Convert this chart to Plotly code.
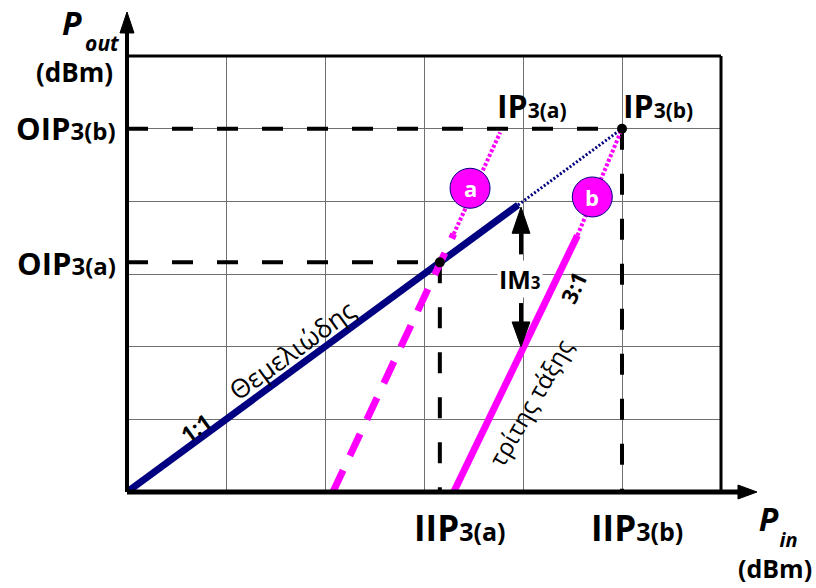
import plotly.graph_objects as go

# Both axes run over six grid divisions (arbitrary dB units)
x_range = [0, 6]
y_range = [0, 6]

# Fundamental (1:1) output
fund_x = [0.0, 3.95]
fund_y = [0.0, 3.95]
fund_ext_x = [3.95, 5.0]
fund_ext_y = [3.95, 5.0]

# Third-order (3:1) products, case a and case b
third_a_x = [2.08, 3.30]
third_a_y = [0.0, 3.55]
third_a_ext_x = [3.30, 3.77]
third_a_ext_y = [3.55, 4.95]

third_b_x = [3.30, 4.55]
third_b_y = [0.0, 3.53]
third_b_ext_x = [4.55, 5.0]
third_b_ext_y = [3.53, 5.0]

# Intercept points (input = output on the 1:1 line)
ip3_a = 3.16
ip3_b = 5.0

# IM3 distance marker
im3_x = 3.98
im3_top = 3.92
im3_bottom = 2.0

NAVY = "#000080"
MAGENTA = "#FF00FF"
FONT = "Open Sans"

fig = go.Figure()

# dashed guide lines to the axes
for v in (ip3_a, ip3_b):
    fig.add_trace(go.Scatter(x=[0, v], y=[v, v], mode="lines",
                             line=dict(color="black", width=4, dash="21px,24px"),
                             hoverinfo="skip"))
    fig.add_trace(go.Scatter(x=[v, v], y=[v, 0], mode="lines",
                             line=dict(color="black", width=4, dash="21px,24px"),
                             hoverinfo="skip"))

# fundamental
fig.add_trace(go.Scatter(x=fund_x, y=fund_y, mode="lines",
                         line=dict(color=NAVY, width=7), hoverinfo="skip"))
fig.add_trace(go.Scatter(x=fund_ext_x, y=fund_ext_y, mode="lines",
                         line=dict(color=NAVY, width=3, dash="2px,2px"),
                         hoverinfo="skip"))

# third-order lines
fig.add_trace(go.Scatter(x=third_a_x, y=third_a_y, mode="lines",
                         line=dict(color=MAGENTA, width=7, dash="24px,16px"),
                         hoverinfo="skip"))
fig.add_trace(go.Scatter(x=third_a_ext_x, y=third_a_ext_y, mode="lines",
                         line=dict(color=MAGENTA, width=4, dash="3px,2px"),
                         hoverinfo="skip"))
fig.add_trace(go.Scatter(x=third_b_x, y=third_b_y, mode="lines",
                         line=dict(color=MAGENTA, width=7), hoverinfo="skip"))
fig.add_trace(go.Scatter(x=third_b_ext_x, y=third_b_ext_y, mode="lines",
                         line=dict(color=MAGENTA, width=4, dash="3px,2px"),
                         hoverinfo="skip"))

# intercept dots
fig.add_trace(go.Scatter(x=[ip3_a, ip3_b], y=[ip3_a, ip3_b], mode="markers",
                         marker=dict(color="black", size=10), cliponaxis=False,
                         hoverinfo="skip"))

shapes = []
# plot frame: thin top/right, heavy axes with arrowheads
shapes.append(dict(type="line", xref="paper", yref="paper", x0=0, x1=1, y0=1, y1=1,
                   line=dict(color="black", width=3)))
shapes.append(dict(type="line", xref="paper", yref="paper", x0=1, x1=1, y0=0, y1=1,
                   line=dict(color="black", width=3)))
shapes.append(dict(type="line", xref="paper", yref="paper", x0=0, x1=1.035, y0=0, y1=0,
                   line=dict(color="black", width=5)))
shapes.append(dict(type="line", xref="paper", yref="paper", x0=0, x1=0, y0=0, y1=1.06,
                   line=dict(color="black", width=4)))
shapes.append(dict(type="path", xref="paper", yref="paper",
                   path="M 1.0606 0 L 1.0286 0.016 L 1.0286 -0.016 Z",
                   fillcolor="black", line=dict(color="black", width=1)))
shapes.append(dict(type="path", xref="paper", yref="paper",
                   path="M 0 1.1009 L -0.0118 1.0528 L 0.0118 1.0528 Z",
                   fillcolor="black", line=dict(color="black", width=1)))

# IM3 arrows
hw = 0.09
shapes.append(dict(type="line", x0=im3_x, x1=im3_x, y0=3.27, y1=3.56,
                   line=dict(color="black", width=4)))
shapes.append(dict(type="path",
                   path=f"M {im3_x} {im3_top} L {im3_x-hw} 3.56 L {im3_x+hw} 3.56 Z",
                   fillcolor="black", line=dict(color="black", width=1)))
shapes.append(dict(type="line", x0=im3_x, x1=im3_x, y0=2.60, y1=2.34,
                   line=dict(color="black", width=4)))
shapes.append(dict(type="path",
                   path=f"M {im3_x} {im3_bottom} L {im3_x-hw} 2.34 L {im3_x+hw} 2.34 Z",
                   fillcolor="black", line=dict(color="black", width=1)))

# a / b circles
for cx, cy in ((3.465, 4.18), (4.70, 4.06)):
    shapes.append(dict(type="circle", xsizemode="pixel", ysizemode="pixel",
                       xanchor=cx, yanchor=cy, x0=-20, x1=20, y0=-20, y1=20,
                       fillcolor=MAGENTA, line=dict(color=NAVY, width=1)))

ann = []


def label(x, y, text, size, ref="data", color="black", **kw):
    d = dict(x=x, y=y, text=text, showarrow=False, xanchor="center", yanchor="middle",
             font=dict(family=FONT, size=size, color=color))
    if ref == "paper":
        d.update(xref="paper", yref="paper")
    d.update(kw)
    ann.append(d)


def sized(px, s):
    return f"<span style='font-size:{px}px'>{s}</span>"


def ip_label(main, sub, size_main, size_sub):
    return "<b>" + main + sized(size_sub, sub) + "</b>"


label(-0.0152, 0.8349, ip_label("OIP", "3(b)", 31, 24), 31, ref="paper", xanchor="right")
label(-0.0152, 0.5252, ip_label("OIP", "3(a)", 31, 24), 31, ref="paper", xanchor="right")
label(4.09, 5.32, ip_label("IP", "3(a)", 32, 21), 32)
label(5.36, 5.32, ip_label("IP", "3(b)", 32, 21), 32)
label(0.5606, -0.0803, ip_label("IIP", "3(a)", 35, 25), 35, ref="paper")
label(0.8586, -0.0803, ip_label("IIP", "3(b)", 35, 25), 35, ref="paper")
label(im3_x - 0.01, 2.93, ip_label("IM", "3", 25, 17), 25, bgcolor="white")

label(3.465, 4.18, "<b>a</b>", 22, color="white")
label(4.70, 4.06, "<b>b</b>", 22, color="white")

# axis titles: P, subscript and unit stacked in one text block
nb = "&nbsp;"
pout = "<br>".join([
    sized(20, nb * 5) + "<b><i>" + sized(32, "P") + "</i></b>",
    "",
    sized(21, nb * 9 + "<b><i>out</i></b>"),
    "", "", "",
    "<b>" + sized(26, "(dBm)") + "</b>",
])
label(-0.1549, 1.1284, pout, 6, ref="paper", xanchor="left", yanchor="top",
      align="left", borderpad=0)

pin = "<br>".join([
    sized(20, nb * 4) + "<b><i>" + sized(32, "P") + "</i></b>",
    "",
    sized(20, nb * 8 + "<b><i>in</i></b>"),
    "", "", "",
    "<b>" + sized(25, "(dBm)") + "</b>",
])
label(1.0269, -0.0087, pin, 6, ref="paper", xanchor="left", yanchor="top",
      align="left", borderpad=0)

# slope annotations
label(0.687, 0.88, "<b>1:1</b>", 22, textangle=-36)
label(1.667, 1.953, "Θεμελιώδης", 26, textangle=-36)
label(4.505, 2.806, "<b>3:1</b>", 22, textangle=-65)
label(4.07, 1.238, "τρίτης τάξης", 24, textangle=-60)

fig.update_layout(
    width=816, height=588,
    margin=dict(l=127, r=95, t=56, b=96),
    paper_bgcolor="white", plot_bgcolor="white",
    showlegend=False,
    shapes=shapes, annotations=ann,
    xaxis=dict(range=x_range, dtick=1, showgrid=True, gridcolor="#707070", gridwidth=1,
               zeroline=False, showticklabels=False, showline=False, ticks="", fixedrange=True),
    yaxis=dict(range=y_range, dtick=1, showgrid=True, gridcolor="#707070", gridwidth=1,
               zeroline=False, showticklabels=False, showline=False, ticks="", fixedrange=True),
)

fig.write_html("out.html")
